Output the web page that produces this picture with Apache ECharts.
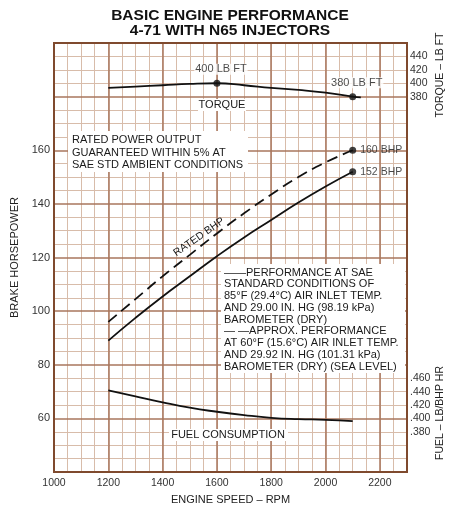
<!DOCTYPE html>
<html><head><meta charset="utf-8">
<script src="https://cdn.jsdelivr.net/npm/echarts@6/dist/echarts.min.js"></script>
<style>html,body{margin:0;padding:0;background:#fff}#c{width:454px;height:510px}</style>
</head><body><div id="c"></div>
<script>
// ---- data ----
const rpmPoints = [1200, 1300, 1400, 1500, 1600, 1700, 1800, 1900, 2000, 2100];
const bhpSae    = [89, 97.5, 105.5, 113, 120.5, 127.5, 134, 140.5, 146.5, 152];
const bhpRated  = [96, 104.5, 113, 121, 129, 136.5, 143.5, 150, 155.5, 160];
const torqueRpm = [1200, 1300, 1400, 1500, 1600, 1700, 1800, 1900, 2000, 2100, 2130];
const torqueLbFt = [393, 395, 397, 399, 400, 397, 393, 390, 386, 380, 379];
const fuelRate  = [0.442, 0.433, 0.424, 0.416, 0.410, 0.405, 0.401, 0.399, 0.398, 0.396];
const torqueMarkIdx = [4, 9];
const xTicks = [1000, 1200, 1400, 1600, 1800, 2000, 2200];
const bhpTicks = [60, 80, 100, 120, 140, 160];
const torqueTicks = [380, 400, 420, 440];
const fuelTicks = [0.380, 0.400, 0.420, 0.440, 0.460];

const FONT = "'Liberation Sans', Arial, Helvetica, sans-serif";
const INK = '#1a1a1a';
const MINOR = '#d8bcaa';
const MAJOR = '#a8765c';

function hasTick(list, v) { return list.some(t => Math.abs(t - v) < 1e-6); }

function txt(str, x, y, size, o) {
  o = o || {};
  const al = o.align || 'left';
  return {
    type: 'text', x: x, y: y, z: 20, rotation: o.rotation || 0,
    style: {
      text: str, fill: o.fill || INK,
      font: (o.bold ? 'bold ' : '') + size + 'px ' + FONT,
      align: al, textAlign: al, verticalAlign: 'middle', textVerticalAlign: 'middle'
    }
  };
}
function box(x, y, w, h) {
  return { type: 'rect', z: 15, shape: { x: x, y: y, width: w, height: h }, style: { fill: '#fff' } };
}

const graphics = [
  txt('BASIC ENGINE PERFORMANCE', 230, 16, 15.5, { bold: true, align: 'center', fill: '#111' }),
  txt('4-71 WITH N65 INJECTORS', 230, 31, 15.5, { bold: true, align: 'center', fill: '#111' }),
  box(68, 131, 180, 41),
  box(221, 264, 184, 109),
  box(198, 99, 48, 12),
  box(169, 429, 119, 12),
  txt('TORQUE', 222, 105, 11, { align: 'center' }),
  txt('FUEL CONSUMPTION', 228, 435, 11, { align: 'center' }),
  txt('RATED BHP', 199, 237, 10.5, { align: 'center', rotation: 35 * Math.PI / 180 }),
  txt('TORQUE – LB FT', 440, 75, 10.5, { align: 'center', rotation: Math.PI / 2, fill: '#222' }),
  txt('FUEL – LB/BHP HR', 440, 413, 10.5, { align: 'center', rotation: Math.PI / 2, fill: '#222' })
];
const ratedLines = ['RATED POWER OUTPUT', 'GUARANTEED WITHIN 5% AT', 'SAE STD AMBIENT CONDITIONS'];
ratedLines.forEach((s, i) => graphics.push(txt(s, 72, 140 + i * 12.5, 11)));
const legendLines = [
  '——PERFORMANCE AT SAE',
  'STANDARD CONDITIONS OF',
  '85°F (29.4°C) AIR INLET TEMP.',
  'AND 29.00 IN. HG (98.19 kPa)',
  'BAROMETER (DRY)',
  '— —APPROX. PERFORMANCE',
  'AT 60°F (15.6°C) AIR INLET TEMP.',
  'AND 29.92 IN. HG (101.31 kPa)',
  'BAROMETER (DRY) (SEA LEVEL)'
];
legendLines.forEach((s, i) => graphics.push(txt(s, 224, 272.7 + i * 11.75, 11)));

const lineCommon = { type: 'line', smooth: true, showSymbol: false, symbol: 'none', silent: true };

const option = {
  animation: false,
  backgroundColor: '#fff',
  grid: { left: 54, right: 47, top: 43, bottom: 31, show: true, borderColor: '#7f4a2e', borderWidth: 2, backgroundColor: 'transparent', z: 3 },
  xAxis: [
    {
      type: 'value', min: 1000, max: 2300, interval: 200, z: 1,
      axisLine: { show: false }, axisTick: { show: false },
      axisLabel: { interval: 0, margin: 6, fontSize: 10.5, color: '#333', fontFamily: FONT,
        formatter: v => hasTick(xTicks, v) ? String(v) : '' },
      splitLine: { show: true, lineStyle: { color: MAJOR, width: 1.5 } },
      name: 'ENGINE SPEED – RPM', nameLocation: 'middle', nameGap: 19,
      nameTextStyle: { fontSize: 11, color: '#222', fontFamily: FONT }
    },
    {
      type: 'value', min: 1000, max: 2300, interval: 50, z: 0, position: 'bottom',
      axisLine: { show: false }, axisTick: { show: false }, axisLabel: { show: false },
      splitLine: { show: true, lineStyle: { color: MINOR, width: 1 } }
    }
  ],
  yAxis: [
    {
      type: 'value', min: 40, max: 200, interval: 20, z: 1,
      axisLine: { show: false }, axisTick: { show: false },
      axisLabel: { interval: 0, margin: 4, fontSize: 11, color: '#333', fontFamily: FONT,
        formatter: v => hasTick(bhpTicks, v) ? String(v) : '' },
      splitLine: { show: true, lineStyle: { color: MAJOR, width: 1.5 } },
      minorTick: { show: false, splitNumber: 4 },
      minorSplitLine: { show: true, lineStyle: { color: MINOR, width: 1 } },
      name: 'BRAKE HORSEPOWER', nameLocation: 'middle', nameGap: 27,
      nameTextStyle: { fontSize: 11, color: '#222', fontFamily: FONT }
    },
    {
      type: 'value', position: 'right', min: -180, max: 460, interval: 20,
      axisLine: { show: false }, axisTick: { show: false }, splitLine: { show: false },
      axisLabel: { interval: 0, margin: 3, fontSize: 10.5, color: '#333', fontFamily: FONT,
        formatter: v => hasTick(torqueTicks, v) ? String(v) : '' }
    },
    {
      type: 'value', position: 'right', min: 0.32, max: 0.96, interval: 0.02,
      axisLine: { show: false }, axisTick: { show: false }, splitLine: { show: false },
      axisLabel: { interval: 0, margin: 3, fontSize: 10.5, color: '#333', fontFamily: FONT,
        formatter: v => hasTick(fuelTicks, v) ? v.toFixed(3).replace(/^0/, '') : '' }
    }
  ],
  graphic: graphics,
  series: [
    Object.assign({}, lineCommon, {
      name: 'SAE', yAxisIndex: 0,
      data: rpmPoints.map((r, i) => [r, bhpSae[i]]),
      lineStyle: { color: '#111', width: 1.8 }
    }),
    Object.assign({}, lineCommon, {
      name: 'Rated', yAxisIndex: 0,
      data: rpmPoints.map((r, i) => [r, bhpRated[i]]),
      lineStyle: { color: '#111', width: 1.8, type: [11, 6] }
    }),
    Object.assign({}, lineCommon, {
      name: 'Torque', yAxisIndex: 1,
      data: torqueRpm.map((r, i) => [r, torqueLbFt[i]]),
      lineStyle: { color: '#111', width: 1.8 }
    }),
    Object.assign({}, lineCommon, {
      name: 'Fuel', yAxisIndex: 2,
      data: rpmPoints.map((r, i) => [r, fuelRate[i]]),
      lineStyle: { color: '#111', width: 1.8 }
    }),
    {
      type: 'scatter', yAxisIndex: 0, symbolSize: 7, silent: true,
      itemStyle: { color: '#111' },
      data: [[rpmPoints[9], bhpRated[9]], [rpmPoints[9], bhpSae[9]]],
      label: { show: true, position: 'right', distance: 4, fontSize: 10.5, color: INK, fontFamily: FONT,
        formatter: p => p.value[1] + ' BHP' }
    },
    {
      type: 'scatter', yAxisIndex: 1, symbolSize: 7, silent: true,
      itemStyle: { color: '#111' },
      data: torqueMarkIdx.map(i => [torqueRpm[i], torqueLbFt[i]]),
      label: { show: true, position: 'top', distance: 5, offset: [4, 0], fontSize: 11, color: INK, fontFamily: FONT,
        backgroundColor: '#fff', padding: [0, 1],
        formatter: p => p.value[1] + ' LB FT' }
    }
  ]
};
echarts.init(document.getElementById('c')).setOption(option);
</script>
</body></html>
